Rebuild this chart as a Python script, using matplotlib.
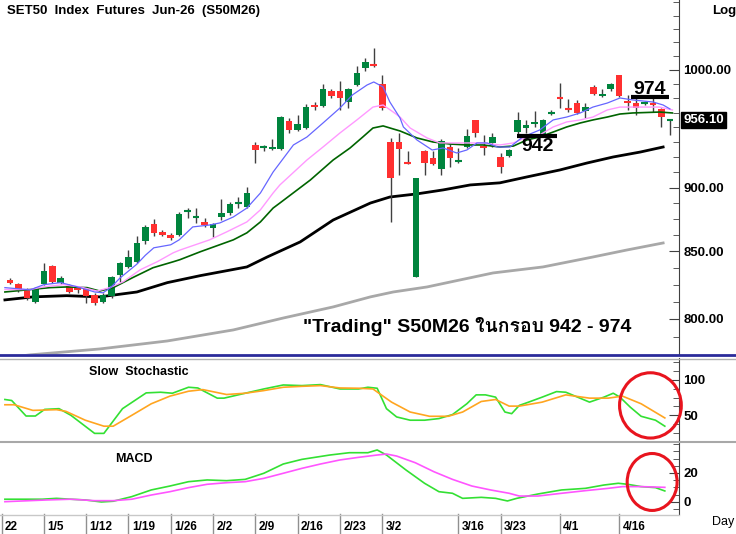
import numpy as np
import matplotlib
matplotlib.use('Agg')
import matplotlib.pyplot as plt
from matplotlib import font_manager, ft2font
from matplotlib.lines import Line2D
from matplotlib.patches import Ellipse
from matplotlib.ticker import FixedLocator, NullFormatter, FormatStrFormatter
from matplotlib.transforms import blended_transform_factory

# daily candles, index 0 = first bar on screen
opens = [828.7, 825.8, 821.4, 812.6, 825.8, 839.1, 826.5, 824.3, 822.8, 822.1,
         817.7, 812.6, 816.3, 832.4, 838.4, 842.1, 858.0, 871.1, 864.9, 862.6,
         862.6, 880.5, 876.6, 872.7, 868.0, 876.6, 879.7, 886.8, 884.4, 935.0,
         932.5, 931.6, 931.6, 955.3, 947.6, 949.3, 969.1, 968.2, 981.4, 981.4,
         971.7, 986.6, 1001.8, 1005.4, 987.5, 937.5, 937.5, 920.9, 830.9, 930.0,
         924.2, 915.1, 933.3, 920.9, 933.3, 956.2, 934.1, 936.7, 925.0, 925.8,
         945.9, 949.3, 952.8, 942.6, 962.2, 976.1, 966.5, 970.8, 963.9, 984.9,
         977.0, 983.1, 995.5, 972.6, 970.8, 969.9, 970.8, 965.7, 955.8]
highs = [830.2, 826.5, 822.8, 823.6, 841.4, 839.8, 831.7, 825.8, 824.3, 822.8,
         819.2, 818.5, 831.7, 842.1, 851.2, 861.9, 870.3, 875.0, 866.5, 864.2,
         880.5, 883.6, 883.6, 875.8, 871.5, 890.8, 888.4, 892.4, 900.4, 937.5,
         935.0, 940.0, 959.5, 957.9, 960.5, 969.9, 971.7, 987.5, 983.1, 990.2,
         983.9, 1003.6, 1010.8, 1019.9, 995.5, 941.0, 945.1, 930.0, 907.7, 930.8,
         930.0, 940.0, 935.8, 932.5, 948.5, 956.2, 943.4, 945.1, 928.3, 931.6,
         963.0, 956.2, 963.9, 957.0, 964.8, 988.4, 974.3, 973.4, 970.8, 986.6,
         983.1, 988.4, 995.5, 978.0, 975.2, 972.6, 975.2, 966.5, 956.5]
lows = [825.8, 819.5, 814.0, 811.9, 825.0, 826.5, 825.8, 818.5, 819.2, 811.9,
        810.4, 811.9, 815.5, 827.2, 837.6, 841.4, 855.7, 862.0, 861.9, 858.8,
        861.9, 875.8, 871.9, 868.8, 861.1, 874.2, 878.1, 883.6, 883.6, 920.0,
        930.0, 930.8, 930.8, 945.1, 947.0, 948.5, 964.8, 967.3, 975.2, 964.8,
        966.5, 986.0, 999.1, 1002.7, 964.8, 872.7, 910.2, 919.6, 830.9, 910.2,
        918.4, 910.2, 916.7, 920.0, 932.5, 941.7, 926.6, 933.3, 911.8, 925.0,
        943.4, 945.1, 950.2, 941.7, 960.5, 966.5, 963.0, 961.3, 957.9, 978.0,
        976.1, 981.4, 976.1, 964.8, 960.5, 969.1, 963.0, 950.2, 943.4]
closes = [826.5, 821.4, 815.5, 822.1, 835.4, 827.2, 830.2, 819.9, 820.7, 816.3,
          811.9, 817.7, 830.9, 841.4, 845.9, 856.5, 868.8, 864.2, 862.6, 860.3,
          878.9, 881.3, 876.6, 870.3, 871.1, 879.7, 886.8, 887.6, 895.6, 930.8,
          933.3, 933.3, 958.7, 947.6, 952.8, 967.3, 967.3, 983.1, 977.0, 975.2,
          983.1, 997.3, 1007.2, 1004.5, 966.5, 907.7, 931.6, 920.0, 907.7, 920.0,
          919.2, 938.4, 924.2, 921.7, 942.6, 945.1, 932.5, 941.7, 916.7, 930.8,
          956.2, 951.9, 954.5, 956.2, 962.2, 975.2, 966.0, 962.2, 967.3, 978.7,
          978.7, 987.5, 977.0, 970.8, 966.5, 970.8, 970.3, 958.7, 956.1]

# moving averages (bar index, price)
ma_blue_x = [-0.6, 2.4, 4.0, 6.0, 8.0, 10.0, 11.0, 11.9, 13.0, 15.0, 16.0, 17.0, 19.0,
             20.0, 21.6, 23.6, 24.8, 26.4, 28.0, 29.6, 31.1, 31.9, 33.5, 35.1, 37.0,
             39.0, 40.5, 42.2, 43.0, 44.1, 44.9, 46.1, 46.5, 48.1, 49.9, 51.2, 52.8,
             54.0, 55.2, 56.4, 57.6, 59.1, 60.6, 62.6, 64.2, 65.8, 67.4, 68.9, 70.6,
             72.1, 73.6, 76.0, 77.2, 78.0]
ma_blue = [822.8, 821.2, 825.0, 826.5, 823.3, 819.6, 819.0, 822.8, 829.9, 840.3, 847.0,
           852.7, 855.0, 858.8, 868.8, 870.3, 871.9, 876.6, 883.6, 895.6, 912.6, 920.0,
           935.0, 941.7, 953.6, 966.5, 978.0, 986.6, 989.3, 984.9, 971.7, 957.9, 950.2,
           939.2, 930.8, 932.5, 928.3, 930.8, 936.7, 936.7, 933.3, 933.3, 941.7, 947.6,
           956.2, 958.7, 962.2, 967.3, 970.8, 975.2, 973.5, 971.7, 969.1, 965.7]
ma_pink_x = [-0.6, 2.4, 3.9, 6.3, 8.3, 10.3, 11.8, 13.4, 15.4, 17.4, 19.3, 20.1, 23.6,
             25.6, 28.0, 29.6, 31.1, 31.9, 35.1, 37.0, 39.0, 41.0, 42.9, 44.1, 45.3,
             46.1, 47.3, 49.3, 50.8, 52.4, 54.4, 55.9, 57.9, 59.5, 61.1, 62.6, 64.2,
             65.8, 67.4, 68.9, 70.6, 72.1, 75.3, 76.8, 78.3]
ma_pink = [821.4, 821.4, 823.3, 825.0, 823.3, 820.3, 822.8, 827.2, 836.1, 842.1, 848.9,
           851.0, 858.8, 864.9, 872.7, 882.2, 895.6, 902.1, 922.5, 933.3, 945.1, 956.2,
           967.3, 969.1, 963.0, 958.7, 949.3, 940.9, 936.7, 936.7, 936.7, 936.7, 935.0,
           936.7, 941.7, 943.4, 950.2, 954.5, 956.2, 958.7, 964.8, 967.3, 967.3, 967.3,
           964.8]
ma_green_x = [-0.6, 2.4, 4.7, 6.7, 9.1, 10.6, 12.2, 14.5, 16.9, 19.3, 20.1, 22.5, 26.4,
              28.0, 29.6, 31.1, 31.9, 35.5, 38.2, 40.2, 41.7, 42.9, 44.1, 45.3, 46.1,
              48.1, 50.0, 52.0, 54.0, 55.9, 57.9, 59.5, 61.1, 62.6, 64.2, 65.8, 67.4,
              68.9, 70.6, 72.1, 73.6, 76.8, 78.3]
ma_green = [819.6, 821.4, 822.8, 823.3, 822.8, 820.3, 822.8, 830.2, 837.6, 842.1, 843.7,
            849.7, 858.8, 864.2, 872.7, 883.6, 887.6, 906.1, 922.5, 932.5, 941.7, 949.3,
            951.1, 948.5, 946.8, 940.9, 937.5, 935.8, 935.0, 935.0, 933.3, 934.1, 939.2,
            941.7, 945.9, 950.2, 953.6, 956.2, 958.7, 961.3, 962.2, 963.0, 962.2]
ma_black_x = [-0.6, 2.7, 6.7, 10.6, 15.0, 18.6, 22.5, 28.0, 30.4, 34.3, 38.2, 42.6, 44.9,
              48.1, 51.2, 54.4, 57.9, 61.1, 65.0, 68.2, 71.3, 74.5, 77.2]
ma_black = [813.8, 816.0, 816.9, 816.0, 819.6, 826.5, 831.7, 838.2, 845.7, 857.2, 874.2,
            887.6, 892.4, 894.9, 898.1, 902.1, 903.8, 908.6, 914.3, 920.0, 925.0, 929.1,
            933.3]
ma_grey_x = [-0.6, 2.4, 10.6, 18.6, 26.4, 32.3, 38.2, 42.6, 45.3, 49.3, 53.2, 57.1, 63.0,
             68.9, 72.9, 77.2]
ma_grey = [772.6, 774.7, 778.8, 784.4, 792.2, 800.7, 808.7, 816.0, 819.6, 823.3, 828.5,
           833.7, 838.2, 845.7, 851.0, 856.4]

# slow stochastic
stk_x = [-0.6, 0.2, 1.9, 3.0, 4.1, 5.8, 7.2, 10.0, 11.1, 13.3, 16.1, 17.8, 19.2, 21.1,
         22.2, 24.5, 25.3, 27.8, 30.0, 32.3, 34.5, 36.7, 39.0, 41.2, 42.3, 43.4, 44.5,
         45.7, 47.3, 49.0, 50.7, 52.3, 54.0, 55.1, 56.2, 57.4, 58.5, 59.3, 60.2, 61.3,
         62.9, 64.6, 65.7, 68.5, 70.2, 71.3, 72.1, 73.3, 74.6, 76.3, 77.4]
stk_k = [72.2, 70.8, 49.0, 49.0, 58.3, 59.3, 50.0, 24.6, 24.6, 59.3, 81.5, 82.4, 81.0,
         89.4, 88.4, 74.1, 74.1, 81.0, 87.0, 92.6, 91.7, 93.1, 87.0, 87.0, 89.4, 88.0,
         59.3, 47.7, 43.1, 43.1, 45.4, 51.0, 66.2, 78.7, 78.7, 75.5, 54.6, 52.3, 63.9,
         68.5, 75.5, 83.3, 82.4, 68.5, 75.5, 81.0, 75.5, 61.6, 48.6, 43.1, 34.7]
std_x = [-0.6, 0.5, 2.7, 5.5, 6.6, 8.9, 11.1, 12.2, 14.4, 16.7, 18.9, 21.1, 22.8, 25.6,
         27.8, 30.0, 32.3, 34.5, 36.7, 39.0, 41.2, 42.9, 45.1, 47.3, 49.6, 51.8, 53.5,
         55.7, 57.4, 59.0, 60.2, 62.9, 65.7, 68.5, 70.7, 72.4, 74.6, 77.4]
std_d = [64.8, 64.8, 56.9, 57.9, 55.6, 43.1, 34.7, 34.7, 50.0, 66.2, 76.9, 83.8, 86.1,
         79.2, 81.0, 84.7, 89.4, 90.7, 91.7, 88.4, 88.0, 87.0, 68.5, 54.6, 48.6, 48.6,
         54.6, 69.4, 72.2, 62.9, 62.9, 68.5, 78.7, 74.1, 74.1, 76.9, 66.2, 46.3]

# MACD
macd_x = [-0.6, 3.8, 5.5, 7.2, 8.9, 10.8, 12.2, 14.4, 16.7, 18.9, 21.1, 23.3, 25.6, 27.8,
          30.0, 32.3, 34.5, 37.8, 40.1, 42.3, 43.4, 44.5, 46.8, 49.0, 50.7, 52.3, 53.5,
          55.7, 57.4, 58.8, 59.9, 62.4, 65.2, 68.0, 70.2, 71.9, 73.0, 74.6, 76.3, 77.4]
macd = [1.9, 1.9, 2.5, 1.9, 1.4, 0.0, 0.5, 3.7, 8.3, 11.0, 14.0, 15.2, 14.7, 15.6, 19.8,
        26.2, 29.4, 32.4, 34.0, 34.0, 35.9, 32.4, 22.1, 12.9, 7.1, 6.0, 2.5, 3.2, 2.5, 0.7,
        2.5, 5.5, 8.3, 9.4, 11.7, 12.9, 12.2, 10.6, 9.9, 7.6]
sig_x = [-0.6, 4.4, 7.2, 10.0, 12.2, 14.4, 16.7, 18.9, 21.1, 23.3, 25.6, 27.8, 30.0, 32.3,
         34.5, 36.7, 39.0, 41.2, 43.4, 44.5, 45.7, 47.9, 50.1, 52.3, 54.6, 56.8, 59.0,
         60.2, 62.4, 65.2, 68.0, 70.7, 72.4, 74.6, 77.4]
signal = [0.2, 1.4, 1.9, 0.9, 0.9, 1.9, 4.8, 7.1, 9.9, 12.2, 13.3, 14.0, 16.3, 19.8, 23.2,
          26.2, 29.0, 30.8, 32.4, 33.1, 31.7, 27.1, 20.9, 15.6, 11.0, 8.3, 6.0, 4.1, 4.1,
          6.0, 7.8, 9.4, 10.6, 10.6, 10.1]

date_pos = [-1, 4, 9, 14, 19, 24, 29, 34, 39, 44, 53, 58, 65, 72]
date_labels = ['22', '1/5', '1/12', '1/19', '1/26', '2/2', '2/9', '2/16', '2/23',
               '3/2', '3/16', '3/23', '4/1', '4/16']

support, resistance = 942, 974
support_line = (942.5, 59.9, 64.7)
resist_line = (976.0, 73.4, 77.9)
last_price = 956.10


def thai_font():
    for f in font_manager.fontManager.ttflist:
        try:
            if ord('น') in ft2font.FT2Font(f.fname).get_charmap():
                return f.name
        except Exception:
            pass
    return 'DejaVu Sans'


plt.rcParams['font.family'] = ['Liberation Sans', 'DejaVu Sans']
plt.rcParams['font.weight'] = 'bold'

UP = '#00843D'
DOWN = '#FF3030'
WICK = '#404040'
SPINE = '#404040'
XLIM = (-1.18, 79.08)

fig = plt.figure(figsize=(7.36, 5.34), dpi=100)
ax = fig.add_axes([0, 0.3371, 0.9226, 0.6629])
ax_st = fig.add_axes([0, 0.1723, 0.9226, 0.1573])
ax_md = fig.add_axes([0, 0.03745, 0.9226, 0.13296])

for a in (ax, ax_st, ax_md):
    a.set_xlim(XLIM)
    a.set_xticks([])
    for s in ('top', 'left', 'bottom'):
        a.spines[s].set_visible(False)
    a.spines['right'].set_color(SPINE)
    a.yaxis.tick_right()
    a.patch.set_alpha(0)

# ---- price panel ----
o = np.array(opens)
h = np.array(highs)
l = np.array(lows)
c = np.array(closes)
x = np.arange(len(o))
up = c >= o
lo = np.minimum(o, c)
hi = np.maximum(o, c)
doji = (hi - lo) < 1.0

ax.plot(ma_grey_x, ma_grey, color='#A8A8A8', lw=2, zorder=1)
ax.plot(ma_black_x, ma_black, color='black', lw=2, zorder=1)
ax.vlines(x, l, h, color=WICK, lw=1, zorder=2)
ax.bar(x[up], (hi - lo)[up], bottom=lo[up], width=0.78, color=UP, zorder=3)
ax.bar(x[~up], (hi - lo)[~up], bottom=lo[~up], width=0.78, color=DOWN, zorder=3)
ax.hlines(c[doji], x[doji] - 0.4, x[doji] + 0.4,
          colors=[UP if u else DOWN for u in up[doji]], lw=1.5, zorder=3)
ax.plot(ma_green_x, ma_green, color='#006400', lw=1.2, zorder=4)
ax.plot(ma_pink_x, ma_pink, color='#FF99FF', lw=1, zorder=4)
ax.plot(ma_blue_x, ma_blue, color='#6666FF', lw=0.9, zorder=4)

ax.set_yscale('log')
ax.set_ylim(775.3, 1064.7)
ax.yaxis.set_major_locator(FixedLocator([800, 850, 900, 1000]))
ax.yaxis.set_major_formatter(FormatStrFormatter('%.2f'))
ax.yaxis.set_minor_locator(FixedLocator(np.arange(787.5, 1063, 12.5)))
ax.yaxis.set_minor_formatter(NullFormatter())
ax.tick_params(axis='y', which='major', direction='in', length=7, pad=3,
               labelsize=9.5, color=SPINE)
ax.tick_params(axis='y', which='minor', direction='in', length=4, color=SPINE)

# support / resistance marks
ax.hlines(support_line[0], support_line[1], support_line[2], color='black', lw=3, zorder=6)
ax.hlines(resist_line[0], resist_line[1], resist_line[2], color='black', lw=3, zorder=6)
ax.text(62.3, 933.8, str(support), fontsize=14, ha='center', va='center', zorder=7)
ax.text(75.6, 982.8, str(resistance), fontsize=14, ha='center', va='center', zorder=7)

ax.text(34.6, 794.3, '"Trading" S50M26 ในกรอบ 942 - 974', fontsize=14,
        ha='left', va='center', family=['Liberation Sans', thai_font(), 'DejaVu Sans'])

ax.annotate(f'{last_price:.2f}', xy=(1, last_price), xycoords=('axes fraction', 'data'),
            xytext=(3, 0), textcoords='offset points', ha='left', va='center',
            color='white', fontsize=9.5,
            bbox=dict(boxstyle='square,pad=0.15', fc='black', ec='black'))

fig.text(7 / 736, 1 - 11 / 534, 'SET50  Index  Futures  Jun-26  (S50M26)',
         fontsize=9.5, ha='left', va='center')
fig.text(712 / 736, 1 - 11 / 534, 'Log', fontsize=9.5, ha='left', va='center')

# ---- slow stochastic ----
ax_st.plot(stk_x, stk_k, color='#33E033', lw=1.2)
ax_st.plot(std_x, std_d, color='#FFA520', lw=1.2)
ax_st.set_ylim(12.5, 130.5)
ax_st.yaxis.set_major_locator(FixedLocator([50, 100]))
ax_st.yaxis.set_minor_locator(FixedLocator(np.arange(25, 130, 12.5)))
ax_st.yaxis.set_minor_formatter(NullFormatter())
ax_st.tick_params(axis='y', which='major', direction='in', length=7, pad=3,
                  labelsize=9.5, color=SPINE)
ax_st.tick_params(axis='y', which='minor', direction='in', length=4, color=SPINE)
ax_st.text(9.3, 111, 'Slow  Stochastic', fontsize=9, ha='left', va='center')
ax_st.add_patch(Ellipse((75.7, 63.9), 7.3, 91.7, fill=False, ec='#E8141E', lw=2.2,
                        clip_on=False, zorder=5))

# ---- MACD ----
ax_md.plot(macd_x, macd, color='#33E033', lw=1.2)
ax_md.plot(sig_x, signal, color='#FF55FF', lw=1.2)
ax_md.set_ylim(-8.3, 40.7)
ax_md.yaxis.set_major_locator(FixedLocator([0, 20]))
ax_md.yaxis.set_minor_locator(FixedLocator(np.arange(-5, 41, 5)))
ax_md.yaxis.set_minor_formatter(NullFormatter())
ax_md.tick_params(axis='y', which='major', direction='in', length=7, pad=3,
                  labelsize=9.5, color=SPINE)
ax_md.tick_params(axis='y', which='minor', direction='in', length=4, color=SPINE)
ax_md.text(12.4, 29.5, 'MACD', fontsize=9, ha='left', va='center')
ax_md.add_patch(Ellipse((75.9, 13.8), 5.9, 39.3, fill=False, ec='#E8141E', lw=2.2,
                        clip_on=False, zorder=5))

# date row under the MACD panel
tr = blended_transform_factory(ax_md.transData, ax_md.transAxes)
for p, lab in zip(date_pos, date_labels):
    ax_md.add_line(Line2D([p, p], [0, -0.29], transform=tr, color='#909090', lw=1,
                          clip_on=False))
    ax_md.text(p + 0.4, -0.19, lab, transform=tr, fontsize=8.5, ha='left', va='center',
               clip_on=False)
fig.text(712 / 736, 1 - 522 / 534, 'Day', fontsize=9, fontweight='normal',
         ha='left', va='center')

# panel separators
fig.add_artist(Line2D([0, 1], [1 - 355 / 534] * 2, color='#2B2B9A', lw=2))
fig.add_artist(Line2D([0, 1], [1 - 358.5 / 534] * 2, color='#B0B0B0', lw=1))
fig.add_artist(Line2D([0, 1], [1 - 442 / 534] * 2, color='#A8A8A8', lw=1.5))
fig.add_artist(Line2D([0, 0.9226], [1 - 514.5 / 534] * 2, color='#C8C8C8', lw=1))

fig.savefig('out.png', dpi=100)
